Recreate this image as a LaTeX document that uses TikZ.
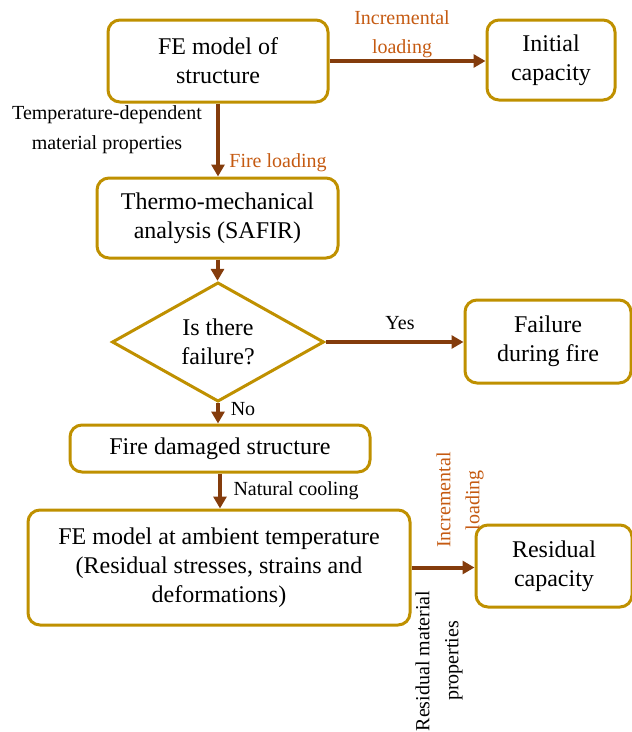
\documentclass[tikz,border=0pt]{standalone}
\usepackage{fontspec}
\setmainfont{Liberation Serif}
\newfontfamily\tnr{Liberation Serif}
\usetikzlibrary{shapes.geometric,arrows.meta}
\definecolor{boxgold}{HTML}{BF9000}
\definecolor{arrbrown}{HTML}{843C0C}
\definecolor{lblorange}{HTML}{C55A11}
\tikzset{
  box/.style={draw=boxgold, line width=3pt, rounded corners=12pt, align=center,
    font={\tnr\fontsize{24}{29}\selectfont}, inner sep=0pt},
  dia/.style={draw=boxgold, line width=3pt, shape=diamond, align=center,
    font={\tnr\fontsize{24}{29}\selectfont}, inner sep=0pt, minimum width=212pt, minimum height=103pt},
  arr/.style={draw=arrbrown, line width=4pt, -{Triangle[length=12pt,width=13pt]}},
  lbl/.style={font={\tnr\fontsize{20}{29}\selectfont}, align=center, inner sep=0pt},
  olbl/.style={lbl, text=lblorange}
}
\begin{document}
\begin{tikzpicture}[x=1pt,y=1pt]
\useasboundingbox (0,0) rectangle (632,-732);
\node[box, minimum width=220pt, minimum height=82pt] (fe) at (218,-61) {FE model of\\structure};
\node[box, minimum width=128pt, minimum height=80pt] (init) at (551,-60) {Initial\\capacity};
\node[box, minimum width=241pt, minimum height=80pt] (thermo) at (217.5,-218) {Thermo-mechanical\\analysis (SAFIR)};
\node[dia] (dia) at (218,-342) {Is there\\failure?};
\node[box, minimum width=166pt, minimum height=83pt] (fail) at (548,-341.5) {Failure\\during fire};
\node[box, minimum width=300pt, minimum height=47pt] (dam) at (220,-448.5) {Fire damaged structure};
\node[box, minimum width=382pt, minimum height=115pt] (amb) at (219,-567.5) {FE model at ambient temperature\\(Residual stresses, strains and\\deformations)};
\node[box, minimum width=156pt, minimum height=82pt] (res) at (554,-566) {Residual\\capacity};

\draw[arr] (fe.east) -- (fe.east -| init.west);
\draw[arr] (fe.south) -- (fe.south |- thermo.north);
\draw[arr] (thermo.south) -- (thermo.south |- dia.north);
\draw[arr] (dia.east) -- (dia.east -| fail.west);
\draw[arr] (dia.south) -- (dia.south |- dam.north);
\draw[arr] (dam.south) -- (dam.south |- amb.north);
\draw[arr] (amb.east) -- (amb.east -| res.west);

\node[olbl] (l1) at (402,-34) {Incremental\\loading};
\node[lbl, font={\tnr\fontsize{20}{30}\selectfont}] (l2) at (107,-130) {Temperature-dependent\\material properties};
\node[olbl] (l3) at (278,-163) {Fire loading};
\node[lbl] (l4) at (400,-323) {Yes};
\node[lbl] (l5) at (243,-409) {No};
\node[lbl] (l6) at (296,-491) {Natural cooling};
\node[olbl, rotate=90] (l7) at (460,-500) {Incremental\\loading};
\node[lbl, rotate=90] (l8) at (439,-661) {Residual material\\properties};
\end{tikzpicture}
\end{document}
